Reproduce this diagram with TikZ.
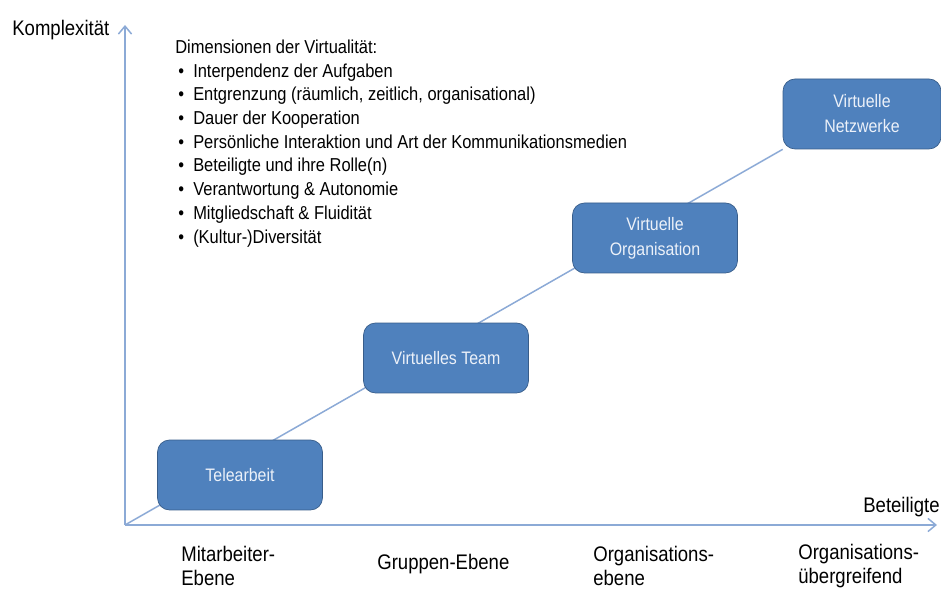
\documentclass[tikz,border=0pt]{standalone}
\usepackage{fontspec}
\setmainfont{Liberation Sans}[FakeStretch=0.88]
\usetikzlibrary{arrows.meta, backgrounds}

\definecolor{axisblue}{RGB}{140,170,214}
\definecolor{stagefill}{RGB}{79,129,189}
\definecolor{stageline}{RGB}{56,93,138}
\definecolor{stagetext}{RGB}{236,241,249}

% one bullet line of the dimension list
\newcommand{\dimitem}[1]{\hspace*{1.7pt}\makebox[8.5pt][l]{\textbullet}#1}

\begin{document}
\begin{tikzpicture}[x=0.02cm, y=-0.02cm,
  stage/.style={draw=stageline, fill=stagefill, rounded corners=2.4mm,
                minimum width=3.3cm, minimum height=1.4cm, align=center,
                text=stagetext, font=\fontsize{10.3}{14.2}\selectfont},
  axis/.style={draw=axisblue, line width=0.85pt},
  axtip/.style={-{Straight Barb[length=4.5pt, width=7.5pt]}},
  axlbl/.style={font=\fontsize{12}{14}\selectfont, align=left, inner sep=0pt},
  dimlist/.style={font=\fontsize{10.65}{13.5}\selectfont, align=left, inner sep=0pt},
]
\useasboundingbox (0,0) rectangle (941,590);

% ---- axes ----
\coordinate (o) at (125,525);
\coordinate (ytop) at (125,25);
\coordinate (xend) at (937,525);
\draw[axis, axtip] (o) -- (ytop);
\draw[axis, axtip] (o) -- (xend);

\node[axlbl, anchor=base west] (ylab) at (12,36) {Komplexität};
\node[axlbl, anchor=base east] (xlab) at (940,513) {Beteiligte};

% ---- stages ----
\node[stage] (tele) at (240,475) {Telearbeit};
\node[stage] (team) at (446,358) {Virtuelles Team};
\node[stage] (orga) at (655,238) {Virtuelle\\Organisation};
\node[stage, minimum width=3.16cm] (netz) at (862,114) {Virtuelle\\Netzwerke};

% ---- diagonal behind the stages ----
\begin{scope}[on background layer]
  \draw[axis] (o) -- (netz.south west);
\end{scope}

% ---- levels below the x axis ----
\node[axlbl, anchor=west] (lvl1) at (181,566) {Mitarbeiter-\\Ebene};
\node[axlbl, anchor=west] (lvl2) at (377,564) {Gruppen-Ebene};
\node[axlbl, anchor=west] (lvl3) at (593,566) {Organisations-\\ebene};
\node[axlbl, anchor=west] (lvl4) at (798,566) {Organisations-\\übergreifend};

% ---- dimensions ----
\node[dimlist, anchor=north west] (dims) at (175,39.5) {%
  Dimensionen der Virtualität:\\
  \dimitem{Interpendenz der Aufgaben}\\
  \dimitem{Entgrenzung (räumlich, zeitlich, organisational)}\\
  \dimitem{Dauer der Kooperation}\\
  \dimitem{Persönliche Interaktion und Art der Kommunikationsmedien}\\
  \dimitem{Beteiligte und ihre Rolle(n)}\\
  \dimitem{Verantwortung \& Autonomie}\\
  \dimitem{Mitgliedschaft \& Fluidität}\\
  \dimitem{(Kultur-)Diversität}};

\end{tikzpicture}
\end{document}
